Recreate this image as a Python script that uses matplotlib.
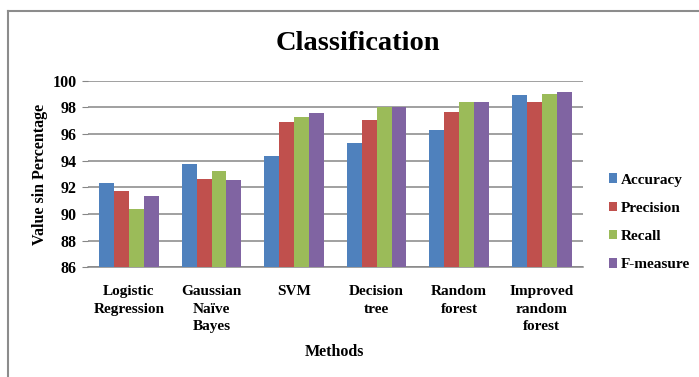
import numpy as np
import matplotlib
matplotlib.use('Agg')
import matplotlib.pyplot as plt
from matplotlib.lines import Line2D

methods = ['Logistic\nRegression', 'Gaussian\nNaïve\nBayes', 'SVM',
           'Decision\ntree', 'Random\nforest', 'Improved\nrandom\nforest']
series = ['Accuracy', 'Precision', 'Recall', 'F-measure']
accuracy = [92.35, 93.72, 94.32, 95.32, 96.3, 98.9]
precision = [91.75, 92.6, 96.87, 97.02, 97.65, 98.4]
recall = [90.37, 93.22, 97.27, 98.02, 98.4, 99.02]
f_measure = [91.32, 92.55, 97.6, 98.02, 98.4, 99.12]
yticks = [86, 88, 90, 92, 94, 96, 98, 100]

colors = ['#4F81BD', '#C0504D', '#9BBB59', '#8064A2']
grid_col = '#868686'

plt.rcParams['font.family'] = ['Liberation Serif', 'DejaVu Serif']
plt.rcParams['font.weight'] = 'bold'

fig = plt.figure(figsize=(6.99, 3.77), dpi=100)
ax = fig.add_axes([0.1255, 0.291, 0.7085, 0.495])

x = np.arange(len(methods))
w = 0.181
for i, vals in enumerate([accuracy, precision, recall, f_measure]):
    ax.bar(x + (i - 1.5) * w, np.array(vals) - 86, w, bottom=86,
           color=colors[i], label=series[i], zorder=3)

ax.set_xlim(-0.5, len(methods) - 0.5)
ax.set_ylim(86, 100)
ax.set_yticks(yticks)
ax.set_yticklabels([str(t) for t in yticks], fontsize=11.5, fontweight='bold')
ax.set_xticks(x)
ax.set_xticklabels(methods, fontsize=11, fontweight='bold', linespacing=1.45)
ax.tick_params(axis='x', length=0, pad=13)
ax.tick_params(axis='y', length=4, color=grid_col, pad=4)
ax.yaxis.grid(True, color=grid_col, linewidth=1.1, zorder=0)
for s in ['left', 'right', 'top']:
    ax.spines[s].set_visible(False)
ax.spines['bottom'].set_color(grid_col)
ax.spines['bottom'].set_linewidth(1.1)

ax.set_ylabel('Value sin Percentage', fontsize=11.5, fontweight='bold', labelpad=3)
fig.text(0.479, 0.066, 'Methods', ha='center', va='center', fontsize=11.5,
         fontweight='bold')
fig.text(0.512, 0.885, 'Classification', ha='center', va='center', fontsize=20.5,
         fontweight='bold')

ax.legend(loc='center left', bbox_to_anchor=(0.862, 0.41),
          bbox_transform=fig.transFigure, frameon=False, fontsize=11,
          handlelength=0.55, handleheight=0.55, handletextpad=0.25,
          labelspacing=1.0, borderaxespad=0)

# frame lines along top and left edge
fig.add_artist(Line2D([8 / 699, 1], [1 - 11 / 377, 1 - 11 / 377],
                      transform=fig.transFigure, color='#8c8c8c', linewidth=1.5))
fig.add_artist(Line2D([8 / 699, 8 / 699], [0, 1 - 11 / 377],
                      transform=fig.transFigure, color='#8c8c8c', linewidth=1.5))

fig.savefig('out.png', dpi=100)
